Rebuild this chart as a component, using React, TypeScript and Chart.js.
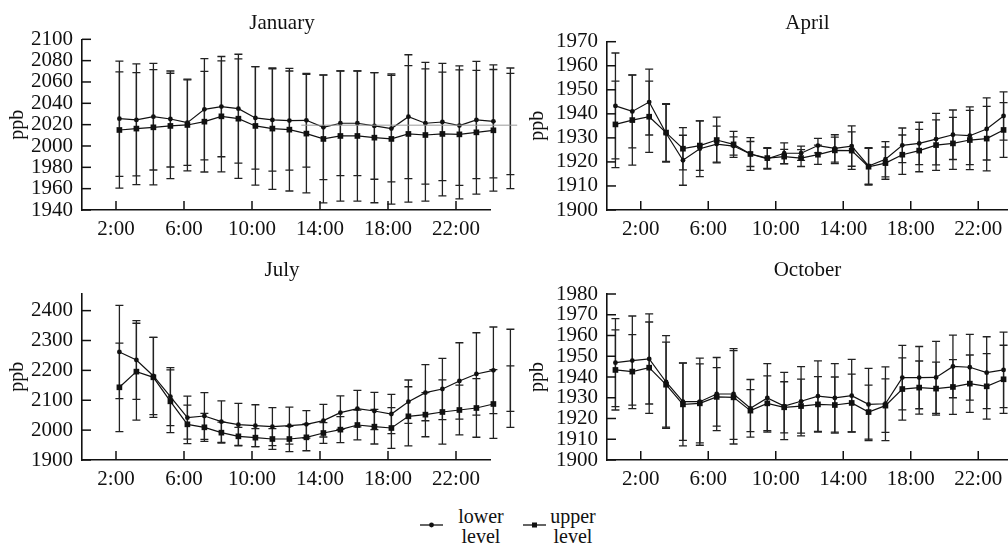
import React, { useEffect, useRef } from 'react';
import { Chart, registerables } from 'chart.js';

Chart.register(...registerables);

const FONT = "'Liberation Serif', 'Times New Roman', serif";
const INK = '#111';

// ---- data ----
const hours = [1, 2, 3, 4, 5, 6, 7, 8, 9, 10, 11, 12, 13, 14, 15, 16, 17, 18, 19, 20, 21, 22, 23, 24];
const xTickHours = [2, 6, 10, 14, 18, 22];

const janLower = [2025.6, 2024.4, 2027.5, 2025.3, 2021.9, 2034.4, 2036.9, 2035.0, 2026.3, 2024.4, 2023.8, 2024.1, 2017.5, 2021.3, 2021.3, 2018.8, 2016.3, 2027.5, 2021.3, 2022.5, 2019.1, 2024.4, 2023.1, 2023.1];
const janUpper = [2015.0, 2016.3, 2017.5, 2018.8, 2019.7, 2022.8, 2027.8, 2025.6, 2018.8, 2016.3, 2015.3, 2011.6, 2006.6, 2009.4, 2009.4, 2007.8, 2006.6, 2011.3, 2010.3, 2011.3, 2010.9, 2012.8, 2014.7, 2014.1];
const janLowerErr = [54, 52.5, 50, 45, 40, 47.5, 47, 51, 48, 48, 46.5, 44, 49, 49, 49, 50, 50, 58, 57, 55, 56, 55, 53, 50];
const janUpperErr = [54.5, 52.5, 54, 49.4, 43, 47.2, 52, 56, 55.5, 57, 57.5, 55.5, 60, 61, 61, 61, 61, 64, 62, 58, 60.5, 58, 57, 54];
const janRefHours = [11.7, 24.4];
const janRefValues = [2019.5, 2019.5];
const janTicks = [1940, 1960, 1980, 2000, 2020, 2040, 2060, 2080, 2100];

const aprLower = [1943.3, 1941.0, 1944.9, 1931.9, 1920.7, 1925.5, 1927.4, 1926.6, 1923.3, 1921.3, 1923.6, 1923.6, 1926.8, 1925.6, 1926.6, 1918.3, 1921.1, 1926.9, 1927.7, 1929.5, 1931.3, 1930.9, 1933.7, 1939.1];
const aprUpper = [1935.6, 1937.4, 1938.8, 1932.2, 1925.5, 1926.8, 1929.1, 1927.3, 1923.3, 1921.6, 1922.2, 1921.6, 1923.0, 1924.8, 1924.7, 1918.0, 1919.5, 1923.0, 1924.7, 1927.0, 1927.7, 1929.1, 1929.7, 1933.3];
const aprLowerErr = [22, 15.2, 13.7, 12, 10.4, 11.6, 7.5, 3.8, 5.2, 4.3, 4.3, 3, 3, 5.7, 8.4, 7.6, 7.3, 7.2, 8.8, 10.7, 10.3, 12, 12.9, 10];
const aprUpperErr = [18, 18.7, 14.8, 12, 8.8, 10.3, 9.5, 5.4, 6.8, 4.3, 3, 3.5, 4, 5.5, 7.8, 7.6, 6.7, 8.2, 8.8, 10.5, 10.8, 12.3, 13.4, 11.4];
const aprTicks = [1900, 1910, 1920, 1930, 1940, 1950, 1960, 1970];

const julLower = [2261.6, 2234.8, 2181.2, 2112.1, 2041.7, 2047.3, 2028.3, 2018.3, 2014.9, 2011.6, 2015.0, 2019.4, 2031.7, 2058.5, 2071.9, 2064.1, 2054.0, 2095.3, 2125.4, 2137.7, 2164.5, 2188.0, 2200.2, 2200.2];
const julUpper = [2143.3, 2195.8, 2176.8, 2096.4, 2019.4, 2009.4, 1991.5, 1979.2, 1974.8, 1970.3, 1970.3, 1975.9, 1990.4, 2001.6, 2017.2, 2011.6, 2007.1, 2046.2, 2051.8, 2060.7, 2067.4, 2074.1, 2087.5, 2112.1];
const julLowerErr = [156, 132, 129, 97, 72, 78, 69.5, 71, 70, 63.6, 62, 46, 54.7, 56, 61, 62.5, 66, 72.5, 94, 102.7, 128, 138, 145, 137.5];
const julUpperErr = [148, 162, 134, 105, 64.5, 47, 35, 30, 30, 35, 42, 45, 35, 43.6, 50, 58, 68, 99, 74, 107.7, 83, 98, 115, 102.7];
const julTicks = [1900, 2000, 2100, 2200, 2300, 2400];

const octLower = [1946.9, 1947.9, 1948.7, 1937.6, 1928.1, 1928.1, 1931.8, 1931.8, 1924.9, 1929.9, 1926.0, 1928.3, 1930.8, 1929.9, 1931.0, 1926.8, 1927.1, 1939.7, 1939.7, 1939.8, 1945.1, 1944.7, 1942.1, 1943.4];
const octUpper = [1943.4, 1942.6, 1944.5, 1936.3, 1926.8, 1927.3, 1930.4, 1930.2, 1923.8, 1927.3, 1925.4, 1926.0, 1926.8, 1926.5, 1927.5, 1923.1, 1926.2, 1934.2, 1934.9, 1934.4, 1935.2, 1936.8, 1935.5, 1938.9];
const octLowerErr = [21.2, 21.5, 21.7, 22.3, 18.6, 21, 17.6, 21.9, 13.9, 16.5, 16.2, 16.7, 17, 16.5, 17.5, 17.4, 17.8, 15.5, 15, 17.4, 15.1, 15.8, 17.3, 18.2];
const octUpperErr = [19.3, 17.8, 22, 20.5, 20, 19, 14.1, 22.5, 10.1, 13.2, 12.3, 13, 13.4, 13.5, 13.9, 13, 12.9, 15, 12.8, 12.8, 13.2, 13.8, 15.8, 16.4];
const octTicks = [1900, 1910, 1920, 1930, 1940, 1950, 1960, 1970, 1980];

const seriesNames = ['lower level', 'upper level'];

// ---- plugins ----
const errorBarPlugin = {
  id: 'errorBars',
  beforeDatasetsDraw(chart: any) {
    const { ctx } = chart;
    const y = chart.scales.y;
    chart.data.datasets.forEach((ds: any, di: number) => {
      if (!ds.errors) return;
      const meta = chart.getDatasetMeta(di);
      ctx.save();
      ctx.strokeStyle = '#222';
      ctx.lineWidth = 1.3;
      meta.data.forEach((pt: any, i: number) => {
        const v = ds.data[i].y;
        const e = ds.errors[i];
        const top = y.getPixelForValue(v + e);
        const bot = y.getPixelForValue(v - e);
        ctx.beginPath();
        ctx.moveTo(pt.x, top);
        ctx.lineTo(pt.x, bot);
        ctx.moveTo(pt.x - 4, top);
        ctx.lineTo(pt.x + 4, top);
        ctx.moveTo(pt.x - 4, bot);
        ctx.lineTo(pt.x + 4, bot);
        ctx.stroke();
      });
      ctx.restore();
    });
  },
};

const innerTicksPlugin = {
  id: 'innerTicks',
  afterDraw(chart: any) {
    const { ctx, chartArea } = chart;
    const { x, y } = chart.scales;
    ctx.save();
    ctx.strokeStyle = INK;
    ctx.lineWidth = 1.5;
    x.ticks.forEach((t: any) => {
      const px = x.getPixelForValue(t.value);
      ctx.beginPath();
      ctx.moveTo(px, chartArea.bottom);
      ctx.lineTo(px, chartArea.bottom - 9);
      ctx.stroke();
    });
    y.ticks.forEach((t: any) => {
      const py = y.getPixelForValue(t.value);
      ctx.beginPath();
      ctx.moveTo(chartArea.left, py);
      ctx.lineTo(chartArea.left + 9, py);
      ctx.stroke();
    });
    ctx.restore();
  },
};

const panelTitlePlugin = {
  id: 'panelTitle',
  afterDraw(chart: any, _args: any, opts: any) {
    const { ctx, chartArea } = chart;
    ctx.save();
    ctx.font = `21px ${FONT}`;
    ctx.fillStyle = INK;
    ctx.textAlign = 'center';
    ctx.textBaseline = 'alphabetic';
    ctx.fillText(opts.text, (chartArea.left + chartArea.right) / 2 + opts.dx, opts.baseline);
    ctx.restore();
  },
};

type PanelCfg = {
  title: string;
  left: number; top: number; w: number; h: number;
  padTop: number; padRight: number; yWidth: number;
  yMin: number; yMax: number; yTicks: number[];
  xShift: number;
  lower: number[]; upper: number[]; lowerErr: number[]; upperErr: number[];
  titleBaseline: number; titleDx: number;
  refHours?: number[]; refValues?: number[];
};

function Panel({ cfg }: { cfg: PanelCfg }) {
  const ref = useRef<HTMLCanvasElement>(null);
  useEffect(() => {
    const datasets: any[] = [
      {
        label: seriesNames[0],
        data: hours.map((h, i) => ({ x: h + cfg.xShift, y: cfg.lower[i] })),
        errors: cfg.lowerErr,
        borderColor: INK, backgroundColor: INK, borderWidth: 1.2,
        pointStyle: 'circle', pointRadius: 2.4, pointBorderWidth: 0,
        tension: 0, clip: false,
      },
      {
        label: seriesNames[1],
        data: hours.map((h, i) => ({ x: h + cfg.xShift, y: cfg.upper[i] })),
        errors: cfg.upperErr,
        borderColor: INK, backgroundColor: INK, borderWidth: 1.2,
        pointStyle: 'rect', pointRadius: 4, pointBorderWidth: 0,
        tension: 0, clip: false,
      },
    ];
    if (cfg.refHours && cfg.refValues) {
      datasets.unshift({
        label: 'mean',
        data: cfg.refHours.map((h, i) => ({ x: h + cfg.xShift, y: cfg.refValues![i] })),
        borderColor: '#9a9a9a', borderWidth: 1, pointRadius: 0, clip: false,
      });
    }
    const tickFont = { family: FONT, size: 21 };
    const chart = new Chart(ref.current!, {
      type: 'line',
      data: { datasets },
      options: {
        animation: false,
        responsive: false,
        layout: { padding: { top: cfg.padTop, right: cfg.padRight, left: 0, bottom: 0 } },
        plugins: {
          legend: { display: false },
          tooltip: { enabled: false },
          panelTitle: { text: cfg.title, baseline: cfg.titleBaseline, dx: cfg.titleDx },
        } as any,
        scales: {
          x: {
            type: 'linear', min: 0, max: 24,
            grid: { display: false, drawTicks: false },
            border: { display: true, color: INK, width: 1.6 },
            ticks: {
              font: tickFont, color: INK, padding: 7, maxRotation: 0, autoSkip: false,
              callback: (v: any) => `${v}:00`,
            },
            afterBuildTicks: (s: any) => { s.ticks = xTickHours.map((v) => ({ value: v })); },
            afterFit: (s: any) => { s.height = 40; },
          },
          y: {
            type: 'linear', min: cfg.yMin, max: cfg.yMax,
            grid: { display: false, drawTicks: false },
            border: { display: true, color: INK, width: 1.6 },
            ticks: {
              font: tickFont, color: INK, padding: 9, autoSkip: false,
              callback: (v: any) => String(v),
            },
            afterBuildTicks: (s: any) => { s.ticks = cfg.yTicks.map((v) => ({ value: v })); },
            afterFit: (s: any) => { s.width = cfg.yWidth; },
            title: { display: true, text: 'ppb', font: { family: FONT, size: 20 }, color: INK, padding: { top: 6, bottom: 0 } },
          },
        } as any,
      },
      plugins: [errorBarPlugin, innerTicksPlugin, panelTitlePlugin],
    } as any);
    return () => chart.destroy();
  }, []);
  return (
    <div style={{ position: 'absolute', left: cfg.left, top: cfg.top, width: cfg.w, height: cfg.h }}>
      <canvas ref={ref} width={cfg.w} height={cfg.h} style={{ width: cfg.w, height: cfg.h, display: 'block' }} />
    </div>
  );
}

const panels: PanelCfg[] = [
  {
    title: 'January', left: 0, top: 0, w: 530, h: 250, padTop: 39.3, padRight: 40, yWidth: 82,
    yMin: 1940, yMax: 2100, yTicks: janTicks, xShift: 1.2,
    lower: janLower, upper: janUpper, lowerErr: janLowerErr, upperErr: janUpperErr,
    titleBaseline: 28.5, titleDx: -4, refHours: janRefHours, refValues: janRefValues,
  },
  {
    title: 'July', left: 0, top: 250, w: 530, h: 250, padTop: 43.3, padRight: 40, yWidth: 82,
    yMin: 1900, yMax: 2458, yTicks: julTicks, xShift: 1.2,
    lower: julLower, upper: julUpper, lowerErr: julLowerErr, upperErr: julUpperErr,
    titleBaseline: 26, titleDx: -4,
  },
  {
    title: 'April', left: 520, top: 0, w: 500, h: 250, padTop: 41.7, padRight: 8, yWidth: 87,
    yMin: 1900, yMax: 1970, yTicks: aprTicks, xShift: -0.5,
    lower: aprLower, upper: aprUpper, lowerErr: aprLowerErr, upperErr: aprUpperErr,
    titleBaseline: 28.5, titleDx: -2,
  },
  {
    title: 'October', left: 520, top: 250, w: 500, h: 250, padTop: 44, padRight: 8, yWidth: 87,
    yMin: 1900, yMax: 1980, yTicks: octTicks, xShift: -0.5,
    lower: octLower, upper: octUpper, lowerErr: octLowerErr, upperErr: octUpperErr,
    titleBaseline: 26, titleDx: -2,
  },
];

function LegendMarker({ square }: { square: boolean }) {
  return (
    <svg width={23} height={10} style={{ display: 'block' }}>
      <line x1={0} y1={5} x2={23} y2={5} stroke={INK} strokeWidth={1.3} />
      {square ? <rect x={9} y={2.5} width={5} height={5} fill={INK} /> : <circle cx={11.5} cy={5} r={2.4} fill={INK} />}
    </svg>
  );
}

function LegendText({ center, words }: { center: number; words: string[] }) {
  return (
    <div style={{
      position: 'absolute', left: center - 35, top: 506, width: 70, textAlign: 'center',
      fontFamily: FONT, fontSize: 20, lineHeight: '20px', color: INK,
    }}>
      {words.map((w, i) => <div key={i}>{w}</div>)}
    </div>
  );
}

export default function App() {
  return (
    <div style={{ position: 'fixed', left: 0, top: 0, width: 1008, height: 546, overflow: 'hidden', background: '#fff' }}>
      {panels.map((p) => <Panel key={p.title} cfg={p} />)}
      <div style={{ position: 'absolute', left: 420, top: 520 }}><LegendMarker square={false} /></div>
      <LegendText center={481} words={seriesNames[0].split(' ')} />
      <div style={{ position: 'absolute', left: 523, top: 520 }}><LegendMarker square={true} /></div>
      <LegendText center={573} words={seriesNames[1].split(' ')} />
    </div>
  );
}
